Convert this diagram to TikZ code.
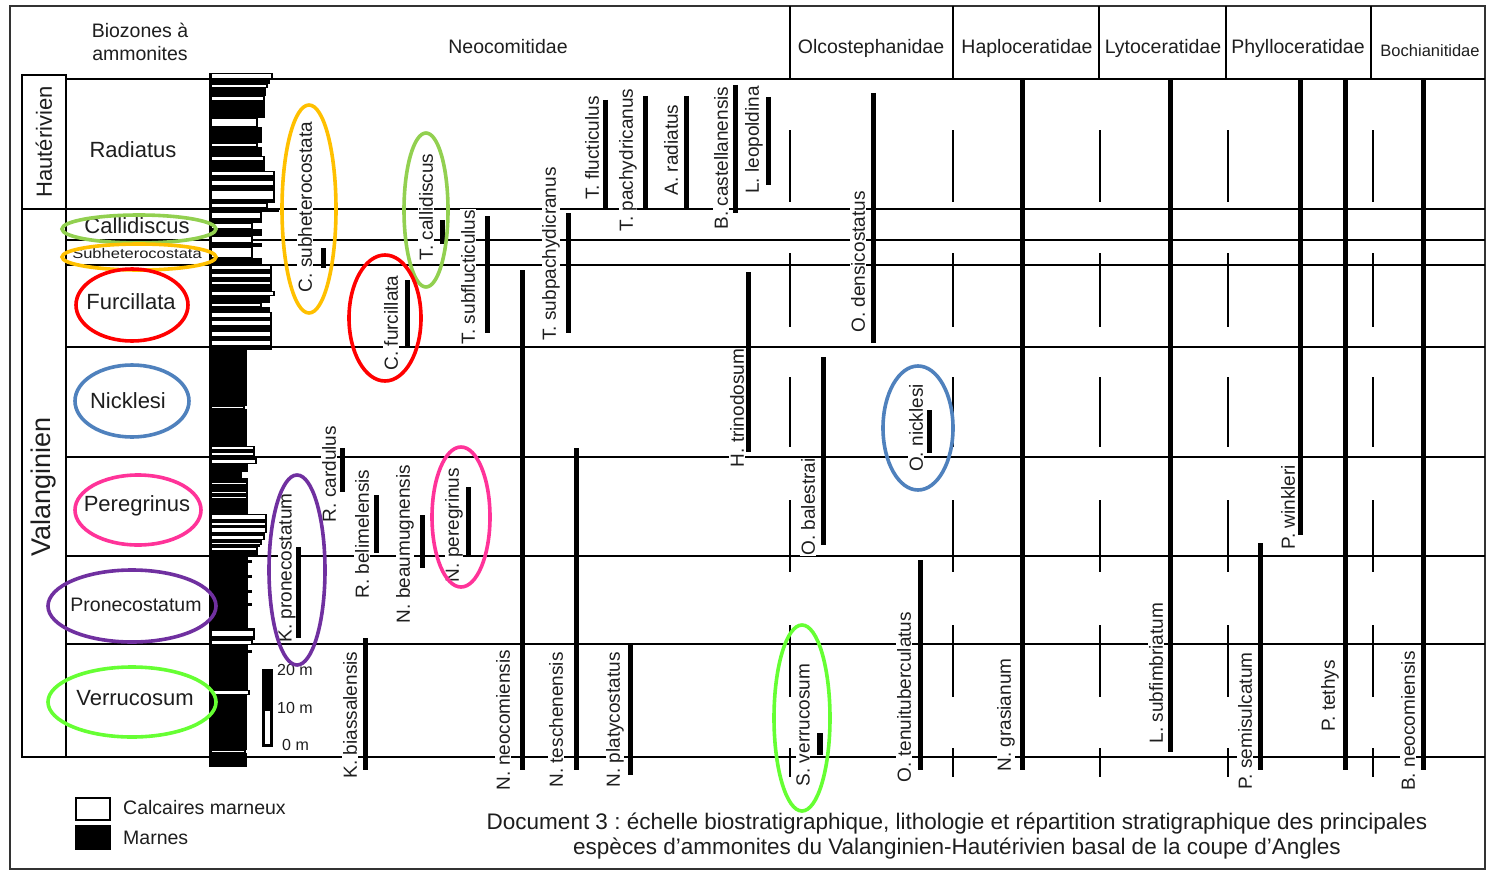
\documentclass[tikz,border=0pt]{standalone}
\usepackage{fontspec}
\setmainfont{Liberation Sans}
\usepackage{graphicx}
\frenchspacing
\definecolor{txt}{HTML}{1E1E1E}
\definecolor{cgreen}{HTML}{92D050}
\definecolor{corange}{HTML}{FFC000}
\definecolor{cred}{HTML}{FF0000}
\definecolor{cblue}{HTML}{4F81BD}
\definecolor{cpink}{HTML}{FF3399}
\definecolor{cpurple}{HTML}{7030A0}
\definecolor{cbright}{HTML}{66FF33}
\begin{document}
\begin{tikzpicture}[x=1pt,y=-1pt,
  every node/.style={text=txt},
  hthin/.style={line width=1.4pt},
  hthick/.style={line width=2.6pt},
  bar/.style={line width=5pt},
  dashx/.style={line width=1.8pt},
  sp/.style={rotate=90, fill=white, inner sep=0.6pt, font=\fontsize{19}{22}\selectfont},
  zone/.style={font=\fontsize{22}{26}\selectfont, inner sep=0pt},
  hdr/.style={font=\fontsize{19.5}{23}\selectfont, inner sep=0pt},
  ring/.style={line width=3.6pt},
]
\useasboundingbox (0,0) rectangle (1487,872);
\fill[white] (0,0) rectangle (1487,872);

% frame
\draw[line width=2pt, draw=black!80] (10,6) rectangle (1485,869);

% header separators
\draw[line width=2.6pt] (790,6) -- (790,79);
\foreach \x in {953,1099,1226,1371} \draw[line width=1.6pt] (\x,6) -- (\x,79);

% header texts
\node[hdr, align=center] (bz) at (140,42) {Biozones à\\ammonites};
\node[hdr] (neo) at (508,47) {Neocomitidae};
\node[hdr] (olc) at (871,48) {Olcostephanidae};
\node[hdr] (hap) at (1027,48) {Haploceratidae};
\node[hdr] (lyt) at (1163,48) {Lytoceratidae};
\node[hdr] (phy) at (1298,48) {Phylloceratidae};
\node[hdr, font=\fontsize{16.5}{20}\selectfont] (boc) at (1430,51) {Bochianitidae};

% horizontal zone lines
\draw[hthin] (66,79) -- (1485,79);
\draw[hthick] (22,209) -- (1485,209);
\draw[hthick] (66,240) -- (1485,240);
\draw[hthick] (66,265) -- (1485,265);
\draw[hthin] (66,347) -- (1485,347);
\draw[hthick] (66,457) -- (1485,457);
\draw[hthick] (66,556) -- (1485,556);
\draw[hthin] (66,644) -- (1485,644);
\draw[hthin] (22,757) -- (1485,757);

% stage column
\draw[line width=2.4pt] (22,75) -- (66,75);
\draw[line width=2.4pt] (22,74) -- (22,758);
\draw[line width=2.4pt] (66,74) -- (66,758);
\node[rotate=90, font=\fontsize{22}{26}\selectfont] (hau) at (44,142) {Hautérivien};
\node[rotate=90, font=\fontsize{27}{30}\selectfont] (val) at (44,487) {Valanginien};

% zone labels
\node[zone] (z1) at (133,150) {Radiatus};
\node[zone] (z2) at (137,226) {Callidiscus};
\node[zone, font=\fontsize{14}{16}\selectfont] (z3) at (137,253) {\scalebox{1.18}[1]{Subheterocostata}};
\node[zone] (z4) at (131,302) {Furcillata};
\node[zone] (z5) at (128,401) {Nicklesi};
\node[zone] (z6) at (137,506) {Peregrinus};
\node[zone, font=\fontsize{19.5}{23}\selectfont] (z7) at (136,605) {Pronecostatum};
\node[zone] (z8) at (135,698) {Verrucosum};

% thin dashes continuing family separators
\foreach \x in {790,953,1100,1228,1373}
  \foreach \a/\b in {130/202,253/327,377/447,500/572,625/697,748/777}
    \draw[dashx] (\x,\a) -- (\x,\b);

% species labels
\node[sp] (s1) at (305,207) {C. subheterocostata};
\node[sp] (s2) at (391,323) {C. furcillata};
\node[sp] (s3) at (426,207) {T. callidiscus};
\node[sp] (s4) at (468,277) {T. subflucticulus};
\node[sp] (s5) at (551,254) {T. subpachydicranus};
\node[sp] (s6) at (592,148) {T. flucticulus};
\node[sp] (s7) at (628,160) {T. pachydricanus};
\node[sp] (s8) at (671,150) {A. radiatus};
\node[sp] (s9) at (721,158) {B. castellanensis};
\node[sp] (s10) at (754,140) {L. leopoldina};
\node[sp] (s11) at (858,262) {O. densicostatus};
\node[sp] (s12) at (737,408) {H. trinodosum};
\node[sp] (s13) at (808,507) {O. balestrai};
\node[sp] (s14) at (916,428) {O. nicklesi};
\node[sp] (s15) at (287,568) {K. pronecostatum};
\node[sp] (s16) at (329,474) {R. cardulus};
\node[sp] (s17) at (362,534) {R. belimelensis};
\node[sp] (s18) at (405,544) {N. beaumugnensis};
\node[sp] (s19) at (454,525) {N. peregrinus};
\node[sp] (s20) at (350,715) {K. biassalensis};
\node[sp] (s21) at (503,720) {N. neocomiensis};
\node[sp] (s22) at (556,720) {N. teschenensis};
\node[sp] (s23) at (615,720) {N. platycostatus};
\node[sp] (s24) at (803,725) {S. verrucosum};
\node[sp] (s25) at (904,697) {O. tenuituberculatus};
\node[sp] (s26) at (1006,715) {N. grasianum};
\node[sp] (s27) at (1156,673) {L. subfimbriatum};
\node[sp] (s28) at (1245,721) {P. semisulcatum};
\node[sp] (s29) at (1288,507) {P. winkleri};
\node[sp] (s30) at (1330,696) {P. tethys};
\node[sp] (s31) at (1408,721) {B. neocomiensis};

% range bars
\foreach \x/\a/\b in {323/248/268, 407/280/348, 442/220/244, 487/216/333, 568/213/333,
  605/100/209, 645/96/209, 686/96/209, 735/85/213, 768/97/185, 873/93/343, 748/272/452,
  522/270/770, 576/448/770, 630/645/775, 365/638/770, 298/547/638, 342/448/492,
  376/495/553, 422/515/568, 468/487/555, 823/357/545, 929/410/453, 920/560/770,
  1022/79/770, 1170/79/752, 1260/543/770, 1300/79/535, 1345/79/770, 1423/79/770}
  \draw[bar] (\x,\a) -- (\x,\b);
\draw[line width=6.5pt] (820,733) -- (820,755);

% lithology column
\foreach \a/\b/\r/\w in {73/79/273/1, 79/84/270/0, 84/88/268/1, 88/96/266/0, 96/101/265/1,
  101/118/265/0, 118/127/258/1, 127/143/262/0, 143/147/258/1, 147/156/262/0, 156/161/265/1,
  161/171/265/0, 171/176/275/1, 176/180/275/0, 180/186/275/1, 186/190/275/0, 190/200/275/1,
  200/203/275/0, 203/208/268/1, 208/212/279/0, 212/219/262/1, 219/223/262/0, 223/229/253/1,
  229/236/262/0, 236/243/253/1, 243/247/262/0, 247/258/253/1, 258/265/262/0, 265/270/272/1,
  270/273/272/0, 273/278/272/1, 278/281/272/0, 281/285/272/1, 285/291/272/0, 291/296/275/1,
  296/303/270/0, 303/307/262/1, 307/312/270/0, 312/318/272/1, 318/320/272/0, 320/326/272/1,
  326/331/272/0, 331/337/272/1, 337/340/272/0, 340/346/272/1, 346/350/272/0, 350/406/247/0,
  406/409/245/1, 409/446/247/0, 446/450/255/1, 450/452/255/0, 452/456/255/1, 456/459/257/0,
  459/464/257/1, 464/472/248/0, 472/478/242/0, 478/482/248/0, 482/485/248/1, 485/491/248/0,
  491/494/248/1, 494/496/248/0, 496/499/248/1, 499/514/248/0, 514/520/267/1, 520/522/267/0,
  522/526/267/1, 526/527/267/0, 527/533/267/1, 533/535/265/0, 535/540/265/1, 540/542/262/0,
  542/545/262/1, 545/547/260/0, 547/551/258/1, 551/556/258/0, 556/628/248/0, 628/630/255/0,
  630/637/255/1, 637/640/255/0, 640/645/253/1, 645/690/248/0, 690/695/250/1, 695/750/247/0,
  750/753/246/1, 753/767/247/0}
{
  \fill[black] (209,\a) rectangle (\r,\b);
  \ifnum\w=1 \fill[white] (212,\a+0.9) rectangle (\r-1.6,\b-0.9); \fi
}
\foreach \a in {560,575,590,603,650} \fill[black] (247,\a) rectangle (252,\a+3);

% scale bar
\fill[black] (262,669) rectangle (273,747);
\fill[white] (265,711) rectangle (270,744);
\node[anchor=west, font=\fontsize{16}{18}\selectfont, inner sep=0pt] (m20) at (277,670) {20 m};
\node[anchor=west, font=\fontsize{16}{18}\selectfont, inner sep=0pt] (m10) at (277,708) {10 m};
\node[anchor=west, font=\fontsize{16}{18}\selectfont, inner sep=0pt] (m0) at (282,745) {0 m};

% legend
\draw[line width=2.2pt, fill=white] (76,798) rectangle (110,820);
\fill[black] (75,825) rectangle (111,850);
\node[anchor=west, font=\fontsize{19.5}{22}\selectfont, inner sep=0pt] (lg1) at (123,808) {Calcaires marneux};
\node[anchor=west, font=\fontsize{19.5}{22}\selectfont, inner sep=0pt] (lg2) at (123,838) {Marnes};

% caption
\node[align=center, font=\fontsize{22.5}{25}\selectfont, inner sep=0pt] (cap) at (957,836)
 {Document 3 : échelle biostratigraphique, lithologie et répartition stratigraphique des principales\\espèces d'ammonites du Valanginien-Hautérivien basal de la coupe d'Angles};

% coloured ellipses
\draw[ring, draw=cgreen] (139,229) ellipse [x radius=77, y radius=14];
\draw[ring, draw=corange] (139,257) ellipse [x radius=77, y radius=13];
\draw[ring, draw=cred] (132,305) ellipse [x radius=56, y radius=36];
\draw[ring, draw=cblue] (132,401) ellipse [x radius=57, y radius=36];
\draw[ring, draw=cpink] (138,510) ellipse [x radius=63, y radius=35];
\draw[ring, draw=cpurple] (132,606) ellipse [x radius=84, y radius=36];
\draw[ring, draw=cbright] (132,702) ellipse [x radius=84, y radius=35];
\draw[ring, draw=corange] (309,209) ellipse [x radius=27, y radius=104];
\draw[ring, draw=cgreen] (426,210) ellipse [x radius=22, y radius=77];
\draw[ring, draw=cred] (385,318) ellipse [x radius=36, y radius=63];
\draw[ring, draw=cpink] (461,517) ellipse [x radius=29, y radius=70];
\draw[ring, draw=cpurple] (297,570) ellipse [x radius=28, y radius=95];
\draw[ring, draw=cblue] (918,428) ellipse [x radius=35, y radius=62];
\draw[ring, draw=cbright] (802,718) ellipse [x radius=28, y radius=93];
\end{tikzpicture}
\end{document}
